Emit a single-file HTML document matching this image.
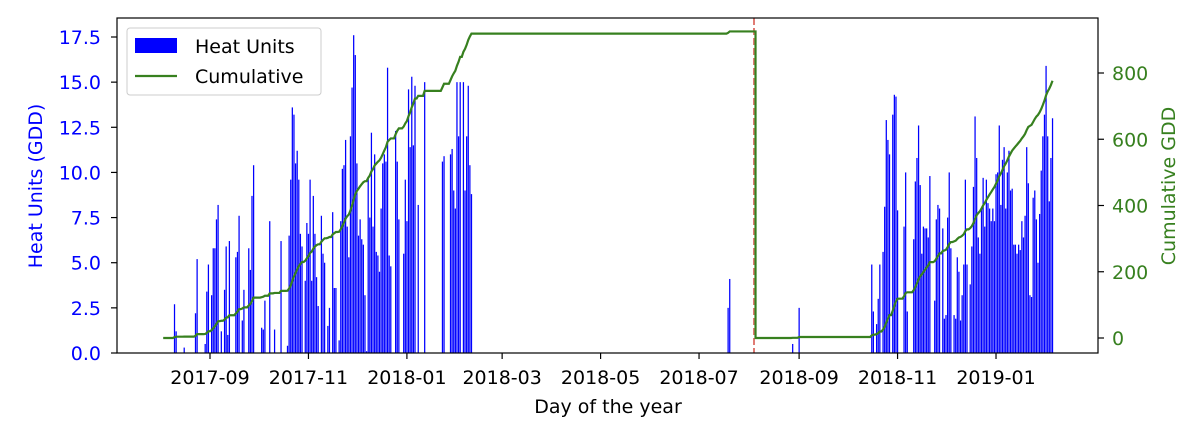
<!DOCTYPE html>
<html><head><meta charset="utf-8"><style>
body{margin:0;background:#fff;}
svg text{font-family:"DejaVu Sans","Liberation Sans",sans-serif;}
</style></head><body>
<svg id="chart" width="1199" height="429" xmlns="http://www.w3.org/2000/svg">
<g id="bars"></g>
<line x1="754" y1="18" x2="754" y2="353" stroke="#e07b74" stroke-width="2" stroke-dasharray="7,3"/>
<path id="cumline" fill="none" stroke="#37801f" stroke-width="2.2"/>
<rect x="117" y="18" width="981" height="335" fill="none" stroke="#000" stroke-width="1.2"/>
<g id="xticks"></g>
<g id="lticks"></g>
<g id="rticks"></g>
<text x="608" y="413" font-size="19" text-anchor="middle">Day of the year</text>
<text transform="translate(42,186) rotate(-90)" font-size="19" fill="#0000ff" text-anchor="middle">Heat Units (GDD)</text>
<text transform="translate(1175,186) rotate(-90)" font-size="19" fill="#37801f" text-anchor="middle">Cumulative GDD</text>
<g>
<rect x="127" y="28" width="194" height="67" rx="3" fill="#fff" fill-opacity="0.8" stroke="#ccc"/>
<rect x="135" y="38" width="42" height="15" fill="#0000ff"/>
<text x="195" y="53" font-size="19">Heat Units</text>
<line x1="135" y1="76" x2="177" y2="76" stroke="#37801f" stroke-width="2.2"/>
<text x="195" y="83" font-size="19">Cumulative</text>
</g>
</svg>
<script>
// Segment 1 daily values from 2017-08-03
const seg1Start = "2017-08-03";
const seg1Values = [0,0,0,0,0,0,0,2.7,1.2,0,0,0,0,0.3,0,0,0,0,0,0,2.2,5.2,0,0,0,0,0.5,3.4,4.9,
0,3.2,5.8,5.8,7.4,8.2,0,1.2,0,3.5,5.9,1.0,6.2,0,0,0,5.3,5.6,7.6,0,1.8,3.5,0,0,5.8,4.6,8.7,10.4,0,0,
0,0,1.4,1.3,2.9,0,0,7.3,0,0,1.3,0,0,0,6.2,0,0,0,0.4,6.5,9.6,13.6,13.2,10.5,11.2,9.6,6.6,5.9,0,4.0,7.2,
6.6,9.6,4.0,8.7,6.6,4.2,2.6,0,7.6,5.5,5.0,0,1.5,2.5,0,7.8,3.6,3.6,0,0.7,7.3,10.2,10.4,11.8,7.0,5.3,12.0,14.7,17.6,16.5,
10.5,6.5,7.4,6.3,6.0,3.2,0.1,9.7,7.5,12.2,7.0,11.0,5.6,5.4,4.5,8.0,10.5,11.0,10.6,15.8,5.4,4.8,0,0,12.3,10.6,7.4,0,0,5.5,9.6,
7.3,14.6,11.4,15.3,11.5,14.8,0,8.2,0,0,0,15.0,0,0,0,0,0,0,0,0,0,0,10.6,10.9,0,0,0,11.0,11.3,9.0,8.0,15.0,12.0,15.0,0,
15.0,9.0,12.0,14.8,10.4,8.8];
// isolated summer days
const seg2Dates = ["2018-07-19","2018-07-20","2018-08-28","2018-09-01"];
const seg2Values = [2.5,4.1,0.5,2.5];
const resetDate = "2018-08-05";
// Segment 3 daily values from 2018-10-16
const seg3Start = "2018-10-16";
const seg3Values = [4.9,2.3,0,1.6,3.0,4.9,0,5.6,8.1,12.9,11.8,11.0,0,13.2,14.3,14.2,7.9,0,0,0,7.0,10.0,2.3,0,0,0,6.3,9.5,10.8,12.6,
9.3,5.5,7.0,6.9,6.9,6.4,9.8,0,0,2.9,7.4,8.2,8.0,0,6.9,1.9,2.1,7.5,10,5.8,0,2.1,1.9,5.3,4.5,1.8,3.2,4.9,9.6,4.9,
0,3.8,5.9,9.2,13.1,10.8,6.4,5.5,8.0,9.7,7.0,9.6,8.3,8.0,7.3,8.0,7.3,9.9,10.0,12.6,8.2,10.7,11.4,8.0,10,11.2,9.0,9.1,6.0,6,
5.5,6.0,5.7,7.3,6.4,7.6,11.4,9.4,3.2,3.1,8.6,9.0,7.4,5.0,7.7,10.1,12.0,13.2,15.9,12.0,8.4,10.8,13.0];
const xTickLabels = ["2017-09","2017-11","2018-01","2018-03","2018-05","2018-07","2018-09","2018-11","2019-01"];
const leftTicks = [0,2.5,5,7.5,10,12.5,15,17.5];
const rightTicks = [0,200,400,600,800];

const DAY=86400000, ORIGIN=Date.UTC(2017,8,1);
function dms(s){const p=s.split("-").map(Number);return Date.UTC(p[0],p[1]-1,p[2]||1);}
function xs(t){return 210+(t-ORIGIN)/DAY*1.614;}
function yl(v){return 353-v*18.057;}
function yr(v){return 338-v*0.33125;}
const NS="http://www.w3.org/2000/svg";
function mk(tag,attrs,parent){const e=document.createElementNS(NS,tag);for(const k in attrs)e.setAttribute(k,attrs[k]);parent.appendChild(e);return e;}

const vals=new Map();
seg1Values.forEach((v,i)=>vals.set(dms(seg1Start)+i*DAY,v));
seg2Dates.forEach((d,i)=>vals.set(dms(d),seg2Values[i]));
seg3Values.forEach((v,i)=>vals.set(dms(seg3Start)+i*DAY,v));

const bars=document.getElementById("bars");
for(const [t,v] of vals){ if(v<=0)continue;
  const r=mk("rect",{x:(xs(t)-0.6).toFixed(2),y:yl(v).toFixed(2),width:1.25,height:(353-yl(v)).toFixed(2),fill:"#0000ff"},bars);
  
  
}
const t0=dms(seg1Start), t1=dms(seg3Start)+(seg3Values.length-1)*DAY, tr=dms(resetDate);
let cum=0,d="";
for(let t=t0;t<=t1;t+=DAY){
  if(t===tr){ d+="L"+xs(t).toFixed(2)+","+yr(cum).toFixed(2); cum=0; }
  cum+=vals.get(t)||0;
  d+=(d?"L":"M")+xs(t).toFixed(2)+","+yr(cum).toFixed(2);
}
document.getElementById("cumline").setAttribute("d",d);

const xt=document.getElementById("xticks");
xTickLabels.forEach(l=>{const x=xs(dms(l));
  const ln=mk("line",{x1:x,y1:353,x2:x,y2:359,stroke:"#000","stroke-width":1.2},xt);
  
  
  const tx=mk("text",{x:x,y:384,"font-size":19,"text-anchor":"middle"},xt);tx.textContent=l;
  
  
});
const lt=document.getElementById("lticks");
leftTicks.forEach(v=>{const y=yl(v);
  const ln=mk("line",{x1:111,y1:y,x2:117,y2:y,stroke:"#000","stroke-width":1.2},lt);
  
  
  const tx=mk("text",{x:101,y:y+7,"font-size":19,"text-anchor":"end",fill:"#0000ff"},lt);tx.textContent=v.toFixed(1);
  
  
});
const rt=document.getElementById("rticks");
rightTicks.forEach(v=>{const y=yr(v);
  const ln=mk("line",{x1:1098,y1:y,x2:1104,y2:y,stroke:"#000","stroke-width":1.2},rt);
  
  
  const tx=mk("text",{x:1112,y:y+7,"font-size":19,fill:"#37801f"},rt);tx.textContent=v;
  
  
});
</script>
</body></html>
